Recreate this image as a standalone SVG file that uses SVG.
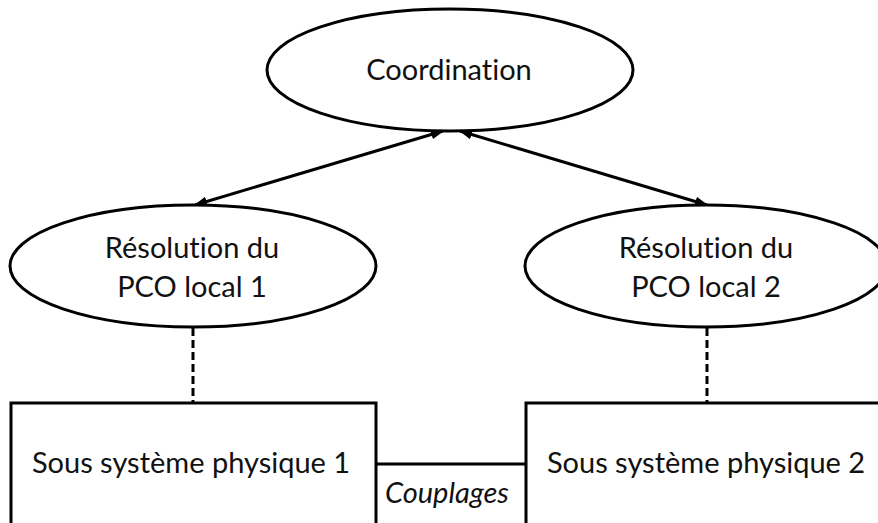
<svg xmlns="http://www.w3.org/2000/svg" width="878" height="523" viewBox="0 0 878 523">
  <defs>
    <marker id="arr" viewBox="0 0 13 10" refX="12" refY="5" markerWidth="13" markerHeight="10" markerUnits="userSpaceOnUse" orient="auto-start-reverse">
      <path d="M0,0 L13,5 L0,10 Z" fill="#000"/>
    </marker>
    <style>
      .shape { fill: #fff; stroke: #000; stroke-width: 3; }
      .lbl { font-family: Lato, "Open Sans", sans-serif; font-size: 29px; fill: #111; text-anchor: middle; font-variant-ligatures: none; font-feature-settings: "liga" 0, "clig" 0; }
      .it { font-style: italic; }
      .conn { stroke: #000; stroke-width: 3; fill: none; }
      .dash { stroke-dasharray: 8 4; }
    </style>
  </defs>
  <rect width="878" height="523" fill="#fff"/>
  <g id="connectors">
    <line class="conn" x1="443" y1="131" x2="195" y2="205" marker-start="url(#arr)" marker-end="url(#arr)"/>
    <line class="conn" x1="460" y1="131" x2="707" y2="205" marker-start="url(#arr)" marker-end="url(#arr)"/>
    <line class="conn dash" x1="193" y1="328" x2="193" y2="403"/>
    <line class="conn dash" x1="707" y1="328" x2="707" y2="403"/>
    <line class="conn" x1="376" y1="464" x2="526" y2="464"/>
    <text class="lbl it" x="447" y="503">Couplages</text>
  </g>
  <g id="coordination">
    <ellipse class="shape" cx="450" cy="70" rx="183" ry="61"/>
    <text class="lbl" x="449" y="80">Coordination</text>
  </g>
  <g id="pco1">
    <ellipse class="shape" cx="193" cy="266" rx="183" ry="61"/>
    <text class="lbl" x="192" y="258">Résolution du</text>
    <text class="lbl" x="192" y="297">PCO local 1</text>
  </g>
  <g id="pco2">
    <ellipse class="shape" cx="706" cy="266" rx="181" ry="61"/>
    <text class="lbl" x="706" y="258">Résolution du</text>
    <text class="lbl" x="706" y="297">PCO local 2</text>
  </g>
  <g id="sys1">
    <rect class="shape" x="11" y="403" width="365" height="140"/>
    <text class="lbl" x="191" y="473">Sous système physique 1</text>
  </g>
  <g id="sys2">
    <rect class="shape" x="526" y="403" width="380" height="140"/>
    <text class="lbl" x="706" y="473">Sous système physique 2</text>
  </g>
</svg>
